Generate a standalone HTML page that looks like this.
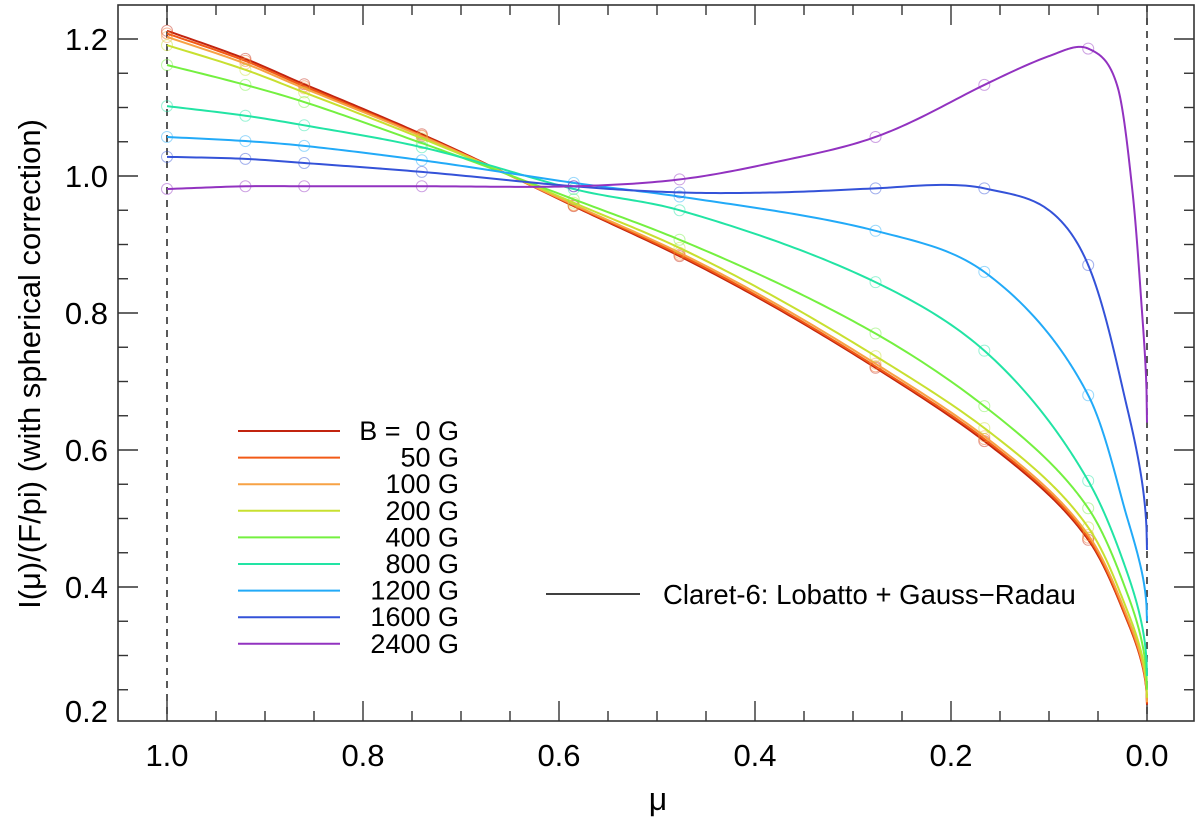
<!DOCTYPE html>
<html><head><meta charset="utf-8"><style>
body{margin:0;background:#fff;}
svg{display:block;font-family:"Liberation Sans",sans-serif;}
</style></head><body>
<svg id="chart" width="1200" height="818">
<g id="ticks"></g>
<g id="curves"></g>
<g id="legend"></g>
<text x="658" y="810" font-size="32" text-anchor="middle">μ</text>
<text transform="translate(40,364) rotate(-90)" font-size="31" text-anchor="middle">I(μ)/(F/pi) (with spherical correction)</text>
<line x1="546" y1="594" x2="640" y2="594" stroke="#000" stroke-width="1.6"/>
<text x="663" y="604" font-size="27.5">Claret-6: Lobatto + Gauss−Radau</text>
</svg>
<script>
const fields = ["B =  0 G","50 G","100 G","200 G","400 G","800 G","1200 G","1600 G","2400 G"];
const colors = ["#c2240f","#f25a16","#f7a245","#c8e030","#74f040","#22e4a4","#22aaf8","#3452d8","#9232c0"];
const muGrid = [1.0,0.92,0.86,0.74,0.585,0.477,0.277,0.166,0.06,0.02,0.0];
const muCircles = [1.0,0.92,0.86,0.74,0.585,0.477,0.277,0.166,0.06];
const s0 = [1.212,1.171,1.134,1.061,0.956,0.883,0.720,0.613,0.469,0.35,0.228];
const s50 = [1.208,1.168,1.131,1.059,0.957,0.885,0.722,0.616,0.472,0.352,0.23];
const s100 = [1.203,1.164,1.128,1.058,0.958,0.888,0.726,0.620,0.476,0.356,0.232];
const s200 = [1.191,1.155,1.122,1.055,0.961,0.895,0.737,0.632,0.487,0.365,0.238];
const s400 = [1.162,1.133,1.108,1.048,0.966,0.907,0.770,0.664,0.515,0.39,0.25];
const s800 = [1.102,1.088,1.074,1.042,0.981,0.950,0.845,0.745,0.555,0.42,0.27];
const s1200 = [1.057,1.051,1.044,1.023,0.990,0.970,0.920,0.860,0.680,0.50,0.35];
const s1600m = [1.0,0.92,0.86,0.74,0.585,0.477,0.38,0.277,0.21,0.166,0.1,0.06,0.02,0.0];
const s1600 = [1.028,1.025,1.019,1.006,0.985,0.976,0.976,0.982,0.987,0.982,0.95,0.870,0.66,0.454];
const s2400m = [1.0,0.92,0.86,0.74,0.585,0.477,0.38,0.277,0.166,0.1,0.06,0.03,0.015,0.005,0.0];
const s2400 = [0.981,0.985,0.985,0.985,0.985,0.995,1.02,1.057,1.133,1.175,1.186,1.13,0.98,0.80,0.64];
const series = [s0,s50,s100,s200,s400,s800,s1200,s1600,s2400];
const grids = [muGrid,muGrid,muGrid,muGrid,muGrid,muGrid,muGrid,s1600m,s2400m];
const xTicks = [1.0,0.8,0.6,0.4,0.2,0.0];
const yTicks = [0.2,0.4,0.6,0.8,1.0,1.2];

const L=118,R=1194,T=5,B=721;
const X = m => 167 + (1.0-m)*980;
const Y = v => 39 + (1.2-v)*685;
const NS="http://www.w3.org/2000/svg";
function mk(tag,attrs,parent){const e=document.createElementNS(NS,tag);for(const k in attrs)e.setAttribute(k,attrs[k]);parent.appendChild(e);return e;}
const tg=document.getElementById('ticks');
for(const m of [1.0,0.0]){
 const d=mk('line',{x1:X(m),x2:X(m),y1:T,y2:B,stroke:'#222','stroke-width':1.5,'stroke-dasharray':'7,6'},tg);
 
 
}
for(let i=-1;i<=21;i++){const m=1.0-i*0.05;const x=X(m);if(x<=L||x>=R)continue;const len=(i%4===0)?20:10;
 mk('line',{x1:x,x2:x,y1:B,y2:B-len,stroke:'#333','stroke-width':1.4},tg);
 mk('line',{x1:x,x2:x,y1:T,y2:T+len,stroke:'#333','stroke-width':1.4},tg);}
for(let i=0;i<=21;i++){const v=0.2+i*0.05;const y=Y(v);if(y<=T||y>=B)continue;const len=(i%4===0)?20:10;
 mk('line',{x1:L,x2:L+len,y1:y,y2:y,stroke:'#333','stroke-width':1.4},tg);
 mk('line',{x1:R,x2:R-len,y1:y,y2:y,stroke:'#333','stroke-width':1.4},tg);}
const fr=mk('rect',{x:L,y:T,width:R-L,height:B-T,fill:'none',stroke:'#333','stroke-width':1.6},tg);


for(const t of xTicks){const e=mk('text',{x:X(t),y:766,'font-size':31,'text-anchor':'middle'},tg);e.textContent=t.toFixed(1);
 
 }
for(const t of yTicks){const e=mk('text',{x:108,y:Math.min(Y(t)+11,722),'font-size':31,'text-anchor':'end'},tg);e.textContent=t.toFixed(1);
 
 }
// Hermite interpolation in sqrt(mu) space
function interp(ms,vs,m){
 const q=ms.map(Math.sqrt), s=Math.sqrt(Math.max(m,0));
 let i=0;while(i<q.length-2&&s<q[i+1])i++;
 const x0=q[i],x1=q[i+1],h=x0-x1;const t=(x0-s)/h;
 const p0=vs[Math.max(i-1,0)],p1=vs[i],p2=vs[i+1],p3=vs[Math.min(i+2,vs.length-1)];
 const xm=q[Math.max(i-1,0)],xp=q[Math.min(i+2,q.length-1)];
 const m1=(p2-p0)/((xm-x1)||1)*h, m2=(p3-p1)/((x0-xp)||1)*h;
 const t2=t*t,t3=t2*t;
 return (2*t3-3*t2+1)*p1+(t3-2*t2+t)*m1+(-2*t3+3*t2)*p2+(t3-t2)*m2;
}
const cg=document.getElementById('curves');
series.forEach((vs,k)=>{
 const ms = grids[k];
 let d='';
 const steps=[];for(let m=1.0;m>0.1;m-=0.005)steps.push(m);for(let m=0.1;m>0;m-=0.0005)steps.push(m);steps.push(0);
 steps.forEach((m,j)=>{d+=(j?'L':'M')+X(m).toFixed(2)+','+Y(interp(ms,vs,m)).toFixed(2);});
 const p=mk('path',{d:d,fill:'none',stroke:colors[k],'stroke-width':2},cg);
 
 
 for(const m of muCircles){
  const c=mk('circle',{cx:X(m),cy:Y(interp(ms,vs,m)),r:5.5,fill:'none',stroke:colors[k],'stroke-width':1,opacity:0.45},cg);
  
  
 }
});
const lg=document.getElementById('legend');
fields.forEach((f,k)=>{const y=431+k*26.6;
 const l=mk('line',{x1:238,x2:340,y1:y,y2:y,stroke:colors[k],'stroke-width':2},lg);
 
 
 const t=mk('text',{x:459,y:y+9,'font-size':27,'text-anchor':'end'},lg);t.textContent=f;t.style.whiteSpace='pre';
 
 });
</script>
</body></html>
